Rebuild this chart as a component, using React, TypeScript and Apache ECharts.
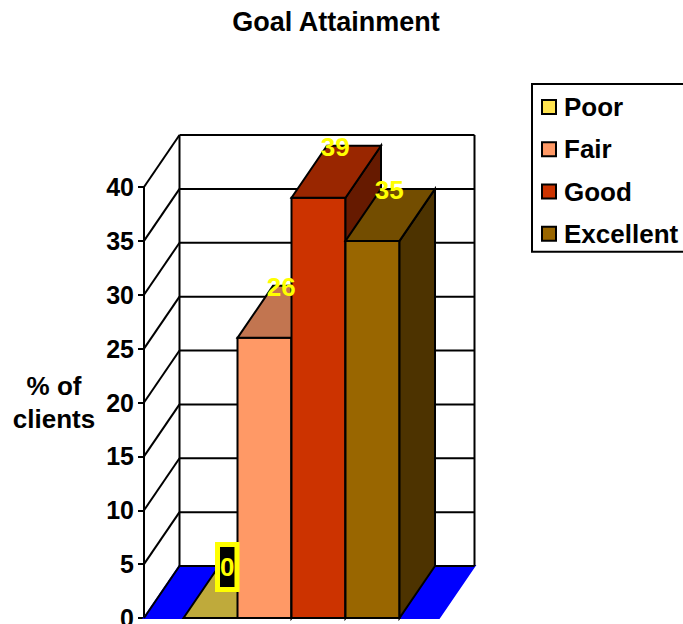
import React, { useEffect, useRef } from "react";
import * as echarts from "echarts";

const categories = ["Goal Attainment"];
const seriesNames = ["Poor", "Fair", "Good", "Excellent"];
const seriesValues = [0, 26, 39, 35];
const axisTicks = [0, 5, 10, 15, 20, 25, 30, 35, 40];

const frontColors = ["#FFE34F", "#FF9966", "#CC3300", "#996600"];
const topColors = ["#BFAA3B", "#C27550", "#992600", "#734D00"];
const sideColors = ["#806F28", "#804D33", "#661A00", "#4D3300"];

const FONT = "Liberation Sans";
const DEPTH_X = 35.5;
const DEPTH_Y = -52;
const BAR_WIDTH = 54;

type Pt = [number, number];

function poly(points: Pt[], fill: string, z2 = 0, stroke = "#000") {
  return {
    type: "polygon",
    z2,
    shape: { points },
    style: { fill, stroke, lineWidth: 2, lineJoin: "miter" },
  };
}

function seg(a: Pt, b: Pt, lineWidth = 2, stroke = "#000") {
  return {
    type: "line",
    shape: { x1: a[0], y1: a[1], x2: b[0], y2: b[1] },
    style: { stroke, lineWidth },
  };
}

// Floor, back wall and side wall of the 3D box, placed from the value axis.
function renderWalls(_: any, api: any) {
  const center = api.coord([0, 0]);
  const band = api.size([1, 0])[0];
  const x0 = center[0] - band / 2;
  const x1 = center[0] + band / 2;
  const y0 = center[1];
  const children: any[] = [];
  children.push(
    poly(
      [
        [x0, y0],
        [x0 + DEPTH_X, y0 + DEPTH_Y],
        [x1 + DEPTH_X, y0 + DEPTH_Y],
        [x1, y0],
      ],
      "#0000FF",
      0,
      "#0000FF"
    )
  );
  axisTicks.forEach((t) => {
    const y = api.coord([0, t])[1];
    children.push(seg([x0, y], [x0 + DEPTH_X, y + DEPTH_Y]));
    children.push(seg([x0 + DEPTH_X, y + DEPTH_Y], [x1 + DEPTH_X, y + DEPTH_Y]));
  });
  const top = api.coord([0, axisTicks[axisTicks.length - 1]])[1] + DEPTH_Y;
  children.push(seg([x0 + DEPTH_X, top], [x0 + DEPTH_X, y0 + DEPTH_Y]));
  children.push(seg([x1 + DEPTH_X, top], [x1 + DEPTH_X, y0 + DEPTH_Y]));
  return { type: "group", children };
}

// One 3D column: front face, top face and right side.
function renderColumn(index: number) {
  return (_: any, api: any) => {
    const p = api.coord([api.value(0), api.value(1)]);
    const base = api.coord([api.value(0), 0])[1];
    const left = p[0] + (index - seriesNames.length / 2) * BAR_WIDTH;
    const right = left + BAR_WIDTH;
    const top = p[1];
    const children: any[] = [];
    if (api.value(1) > 0) {
      children.push(
        poly(
          [
            [left, top],
            [right, top],
            [right, base],
            [left, base],
          ],
          frontColors[index]
        )
      );
      children.push(
        poly(
          [
            [right, top],
            [right + DEPTH_X, top + DEPTH_Y],
            [right + DEPTH_X, base + DEPTH_Y],
            [right, base],
          ],
          sideColors[index]
        )
      );
    }
    children.push(
      poly(
        [
          [left, top],
          [left + DEPTH_X, top + DEPTH_Y],
          [right + DEPTH_X, top + DEPTH_Y],
          [right, top],
        ],
        topColors[index]
      )
    );
    return { type: "group", children };
  };
}

// Value labels sit over the middle of each column's top face.
function renderLabel(_: any, api: any) {
  const index = api.value(2);
  const value = api.value(1);
  const p = api.coord([api.value(0), value]);
  const x = p[0] + (index - seriesNames.length / 2 + 0.5) * BAR_WIDTH + DEPTH_X / 2 - 1;
  const y = p[1] + DEPTH_Y + 1;
  const boxed =
    value === 0
      ? {
          backgroundColor: "#000",
          borderColor: "#FFFF00",
          borderWidth: 5,
          padding: [6, 0, 8, 0],
        }
      : {};
  return {
    type: "text",
    style: {
      text: String(value),
      x,
      y,
      align: "center",
      verticalAlign: "middle",
      fill: "#FFFF00",
      fontFamily: FONT,
      fontWeight: "bold",
      fontSize: 26,
      ...boxed,
    },
  };
}

export default function App() {
  const ref = useRef<HTMLDivElement>(null);

  useEffect(() => {
    const chart = echarts.init(ref.current!, undefined, { renderer: "svg" });
    chart.setOption({
      animation: false,
      backgroundColor: "#fff",
      textStyle: { fontFamily: FONT },
      title: {
        text: "Goal Attainment",
        left: 331,
        top: 3,
        textAlign: "center",
        textStyle: { fontFamily: FONT, fontWeight: "bold", fontSize: 27, color: "#000" },
      },
      legend: {
        data: seriesNames,
        orient: "vertical",
        left: 532,
        top: 84,
        width: 170,
        padding: [10, 40, 5, 9],
        itemWidth: 14,
        itemHeight: 14,
        itemGap: 16.25,
        borderColor: "#000",
        borderWidth: 2,
        backgroundColor: "#fff",
        icon: "rect",
        itemStyle: { borderColor: "#000", borderWidth: 2 },
        textStyle: { fontFamily: FONT, fontWeight: "bold", fontSize: 26, color: "#000", padding: [0, 0, 0, 3] },
      },
      grid: { left: 144, right: 244, top: 187, bottom: 6, outerBoundsMode: "none" },
      xAxis: { type: "category", data: categories, show: false },
      yAxis: {
        type: "value",
        min: 0,
        max: 40,
        interval: 5,
        name: "% of\nclients",
        nameLocation: "middle",
        nameRotate: 0,
        nameGap: 90,
        nameTextStyle: { fontFamily: FONT, fontWeight: "bold", fontSize: 26, color: "#000", lineHeight: 33, align: "center" },
        axisLine: { show: true, lineStyle: { color: "#000", width: 2 } },
        axisTick: { show: true, length: 6, lineStyle: { color: "#000", width: 2 } },
        axisLabel: { fontFamily: FONT, fontWeight: "bold", fontSize: 25, color: "#000", margin: 10 },
        splitLine: { show: false },
      },
      series: [
        {
          type: "custom",
          name: "walls",
          z: 1,
          renderItem: renderWalls,
          data: [[0, 0]],
          silent: true,
        },
        ...seriesNames.map((name, i) => ({
          type: "custom",
          name,
          z: 2 + i,
          itemStyle: { color: frontColors[i] },
          renderItem: renderColumn(i),
          data: [[0, seriesValues[i]]],
        })),
        {
          type: "custom",
          name: "values",
          z: 10,
          renderItem: renderLabel,
          data: seriesValues.map((v, i) => [0, v, i]),
          silent: true,
        },
      ],
    });
    return () => chart.dispose();
  }, []);

  return <div ref={ref} style={{ position: "fixed", left: 0, top: 0, width: 683, height: 624 }} />;
}
